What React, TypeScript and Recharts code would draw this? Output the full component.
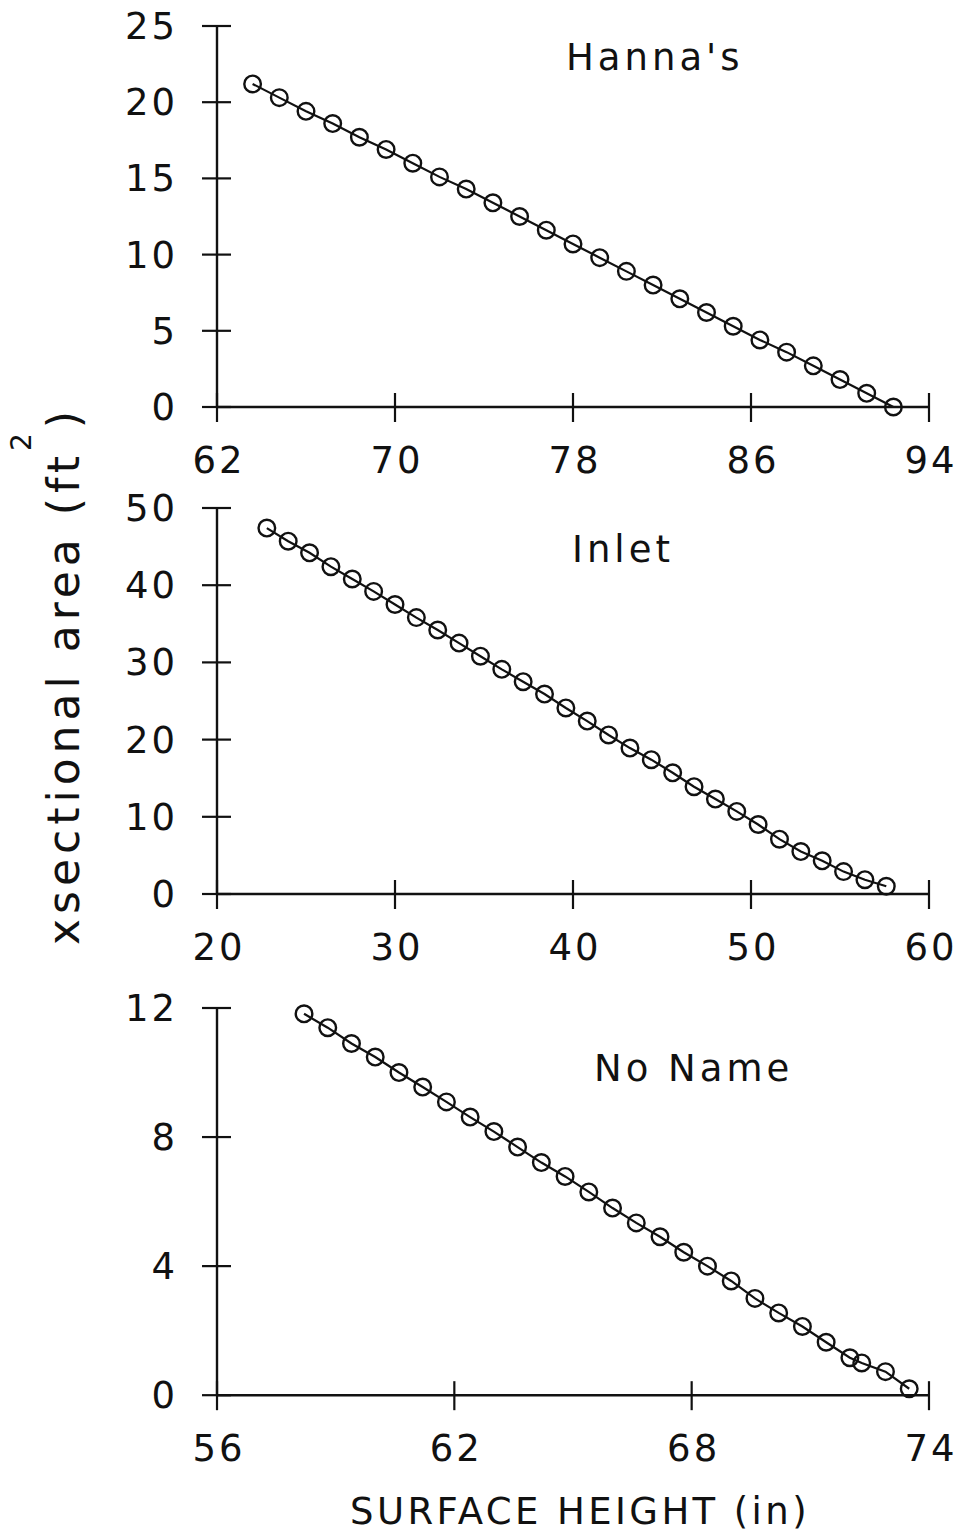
import { LineChart, Line, XAxis, YAxis } from "recharts";

// surface height (in) vs cross-sectional area (ft^2)
const hannaHeights = [63.6, 64.8, 66.0, 67.2, 68.4, 69.6, 70.8, 72.0, 73.2, 74.4, 75.6, 76.8, 78.0, 79.2, 80.4, 81.6, 82.8, 84.0, 85.2, 86.4, 87.6, 88.8, 90.0, 91.2, 92.4];
const hannaAreas = [21.2, 20.3, 19.4, 18.6, 17.7, 16.9, 16.0, 15.1, 14.3, 13.4, 12.5, 11.6, 10.7, 9.8, 8.9, 8.0, 7.1, 6.2, 5.3, 4.4, 3.6, 2.7, 1.8, 0.9, 0.0];

const inletHeights = [22.8, 24.0, 25.2, 26.4, 27.6, 28.8, 30.0, 31.2, 32.4, 33.6, 34.8, 36.0, 37.2, 38.4, 39.6, 40.8, 42.0, 43.2, 44.4, 45.6, 46.8, 48.0, 49.2, 50.4, 51.6, 52.8, 54.0, 55.2, 56.4, 57.6];
const inletAreas = [47.4, 45.7, 44.2, 42.4, 40.8, 39.2, 37.5, 35.8, 34.2, 32.5, 30.8, 29.1, 27.5, 25.9, 24.1, 22.4, 20.6, 18.9, 17.4, 15.7, 13.9, 12.3, 10.7, 9.0, 7.1, 5.5, 4.3, 2.9, 1.85, 1.0];

const noNameHeights = [58.2, 58.8, 59.4, 60.0, 60.6, 61.2, 61.8, 62.4, 63.0, 63.6, 64.2, 64.8, 65.4, 66.0, 66.6, 67.2, 67.8, 68.4, 69.0, 69.6, 70.2, 70.8, 71.4, 72.0, 72.3, 72.9, 73.5];
const noNameAreas = [11.82, 11.39, 10.9, 10.48, 10.0, 9.55, 9.09, 8.62, 8.17, 7.69, 7.21, 6.78, 6.3, 5.8, 5.34, 4.91, 4.43, 4.0, 3.54, 3.0, 2.55, 2.13, 1.64, 1.16, 1.0, 0.73, 0.2];

const hannaXTicks = [62, 70, 78, 86, 94];
const hannaYTicks = [0, 5, 10, 15, 20, 25];
const inletXTicks = [20, 30, 40, 50, 60];
const inletYTicks = [0, 10, 20, 30, 40, 50];
const noNameXTicks = [56, 62, 68, 74];
const noNameYTicks = [0, 4, 8, 12];

const FONT = '"DejaVu Sans", "Liberation Sans", Arial, sans-serif';
const INK = "#111";

// ticks cross the axis line on both sides, like the old plotter output
const XTick = (props: any) => {
  const { x, y, payload } = props;
  return (
    <g>
      <line x1={x} x2={x} y1={y - 14} y2={y + 15} stroke={INK} strokeWidth={2.2} />
      <text x={x + 2} y={y + 66} textAnchor="middle" fontSize={37} letterSpacing={3} fontFamily={FONT} fill={INK}>
        {payload.value}
      </text>
    </g>
  );
};

const YTick = (props: any) => {
  const { x, y, payload } = props;
  return (
    <g>
      <line x1={x - 15} x2={x + 14} y1={y} y2={y} stroke={INK} strokeWidth={2.2} />
      <text x={x - 39} y={y + 13} textAnchor="end" fontSize={37} letterSpacing={3} fontFamily={FONT} fill={INK}>
        {payload.value}
      </text>
    </g>
  );
};

// open circle marker
const Ring = (props: any) => {
  const { cx, cy, index } = props;
  if (cx == null || cy == null) return <g key={index} />;
  return <circle key={index} cx={cx} cy={cy} r={8.3} fill="none" stroke={INK} strokeWidth={2.4} />;
};

interface PanelProps {
  plotTop: number;
  plotBottom: number;
  heights: number[];
  areas: number[];
  xDomain: [number, number];
  xTicks: number[];
  yDomain: [number, number];
  yTicks: number[];
}

function Panel({ plotTop, plotBottom, heights, areas, xDomain, xTicks, yDomain, yTicks }: PanelProps) {
  const data = heights.map((h, i) => ({ x: h, y: areas[i] }));
  const axisLine = { stroke: INK, strokeWidth: 2.4 };
  return (
    <div style={{ position: "absolute", left: 0, top: plotTop - 20 }}>
      <LineChart
        width={958}
        height={20 + (plotBottom - plotTop) + 80}
        data={data}
        margin={{ top: 20, right: 29, bottom: 0, left: 0 }}
      >
        <XAxis
          dataKey="x"
          type="number"
          domain={xDomain}
          ticks={xTicks}
          interval={0}
          height={80}
          tickSize={0}
          tickMargin={0}
          tickLine={false}
          axisLine={axisLine}
          tick={(p: any) => <XTick {...p} />}
        />
        <YAxis
          type="number"
          domain={yDomain}
          ticks={yTicks}
          interval={0}
          width={217}
          tickSize={0}
          tickMargin={0}
          tickLine={false}
          axisLine={axisLine}
          tick={(p: any) => <YTick {...p} />}
        />
        <Line
          dataKey="y"
          type="linear"
          stroke={INK}
          strokeWidth={2.2}
          dot={(p: any) => <Ring {...p} key={p.index} />}
          activeDot={false}
          isAnimationActive={false}
        />
      </LineChart>
    </div>
  );
}

export default function App() {
  return (
    <div style={{ position: "absolute", left: 0, top: 0, width: 958, height: 1534, background: "#fff" }}>
      <Panel plotTop={25.7} plotBottom={406.7} heights={hannaHeights} areas={hannaAreas}
        xDomain={[62, 94]} xTicks={hannaXTicks} yDomain={[0, 25]} yTicks={hannaYTicks} />
      <Panel plotTop={508.3} plotBottom={894.3} heights={inletHeights} areas={inletAreas}
        xDomain={[20, 60]} xTicks={inletXTicks} yDomain={[0, 50]} yTicks={inletYTicks} />
      <Panel plotTop={1008.3} plotBottom={1395.5} heights={noNameHeights} areas={noNameAreas}
        xDomain={[56, 74]} xTicks={noNameXTicks} yDomain={[0, 12]} yTicks={noNameYTicks} />

      <svg width={958} height={1534} style={{ position: "absolute", left: 0, top: 0, pointerEvents: "none" }}>
        <g fontFamily={FONT} fill={INK} fontSize={37} letterSpacing={4}>
          <text x={566} y={70}>Hanna's</text>
          <text x={572} y={562}>Inlet</text>
          <text x={594} y={1081}>No Name</text>
          <text x={580} y={1524} textAnchor="middle" letterSpacing={3.4}>SURFACE HEIGHT (in)</text>
          <g transform="translate(79, 945) rotate(-90)">
            <text x={0} y={0} fontSize={44} letterSpacing={5}>
              xsectional area (ft
              <tspan fontSize={28} dy={-48}>2</tspan>
              <tspan dy={48}>)</tspan>
            </text>
          </g>
        </g>
      </svg>
    </div>
  );
}
